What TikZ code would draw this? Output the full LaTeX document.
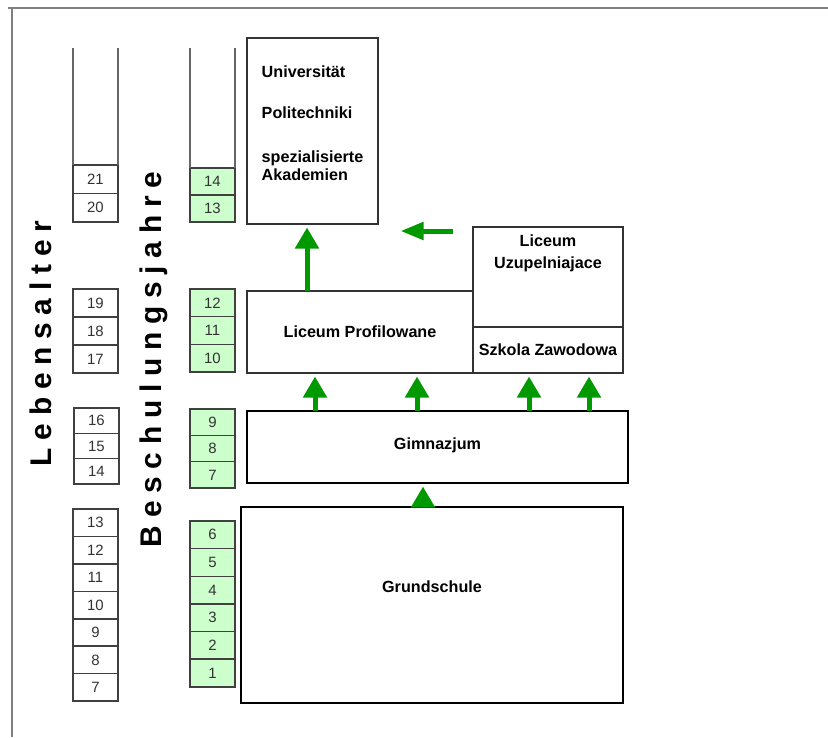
\documentclass[tikz,border=0pt]{standalone}
\usepackage{fontspec}
\setmainfont{Liberation Sans}
\newfontfamily\spacedfont[LetterSpace=26]{Liberation Sans}
\usetikzlibrary{arrows.meta,
                positioning
            }

\definecolor{lightgreen}{HTML}{CCFFCC}
\definecolor{arrowgreen}{HTML}{009900}
\definecolor{framegray}{HTML}{7F7F7F}

\begin{document}
\begin{tikzpicture}[
        agebox/.style={draw=black!75, line width=0.9pt, minimum width=0.9cm, inner sep=0pt, outer sep=0pt,
                       text=black!80, font=\fontsize{8.5}{10}\selectfont},
        yearbox/.style={agebox, fill=lightgreen},
        boxtext/.style={inner sep=0pt, outer sep=0pt, font=\fontsize{9.2}{10.5}\selectfont\bfseries},
        schoolbox/.style={boxtext, draw=black!80, line width=1pt},
        mainbox/.style={schoolbox, draw=black, line width=1.6pt},
        rail/.style={draw=black!60, line width=0.8pt},
        sidelabel/.style={rotate=90, inner sep=0pt, font=\spacedfont\fontsize{17}{20}\selectfont\bfseries},
        uparrow/.style={draw=arrowgreen, line width=0.1cm, -{Triangle[width=0.46cm, length=0.42cm]}, shorten >=2pt}
    ]
                \useasboundingbox (0,0) rectangle (16.56,-14.74);

                % Frame
                \draw[framegray, line width=1.7pt] (0.16,-0.16) -- (16.56,-0.16);
                \draw[framegray, line width=1.7pt] (0.24,-0.16) -- (0.24,-14.74);

                % Lebensalter
                \node (a21) [agebox, minimum height=0.57cm, anchor=north west] at (1.46,-3.30) {21};
                \node (a20) [agebox, minimum height=0.57cm, below=0pt of a21] {20};
                \draw[rail] (a21.north west) -- +(0,2.34);
                \draw[rail] (a21.north east) -- +(0,2.34);

                \node (a19) [agebox, minimum height=0.56cm, anchor=north west] at (1.46,-5.78) {19};
                \node (a18) [agebox, minimum height=0.56cm, below=0pt of a19] {18};
                \node (a17) [agebox, minimum height=0.56cm, below=0pt of a18] {17};

                \node (a16) [agebox, minimum height=0.507cm, anchor=north west] at (1.48,-8.16) {16};
                \node (a15) [agebox, minimum height=0.507cm, below=0pt of a16] {15};
                \node (a14) [agebox, minimum height=0.507cm, below=0pt of a15] {14};

                \node (a13) [agebox, minimum height=0.549cm, anchor=north west] at (1.46,-10.18) {13};
                \node (a12) [agebox, minimum height=0.549cm, below=0pt of a13] {12};
                \node (a11) [agebox, minimum height=0.549cm, below=0pt of a12] {11};
                \node (a10) [agebox, minimum height=0.549cm, below=0pt of a11] {10};
                \node (a9) [agebox, minimum height=0.549cm, below=0pt of a10] {9};
                \node (a8) [agebox, minimum height=0.549cm, below=0pt of a9] {8};
                \node (a7) [agebox, minimum height=0.549cm, below=0pt of a8] {7};

                % Beschulungsjahre
                \node (y14) [yearbox, minimum height=0.54cm, anchor=north west] at (3.80,-3.36) {14};
                \node (y13) [yearbox, minimum height=0.54cm, below=0pt of y14] {13};
                \draw[rail] (y14.north west) -- +(0,2.40);
                \draw[rail] (y14.north east) -- +(0,2.40);

                \node (y12) [yearbox, minimum height=0.553cm, anchor=north west] at (3.80,-5.78) {12};
                \node (y11) [yearbox, minimum height=0.553cm, below=0pt of y12] {11};
                \node (y10) [yearbox, minimum height=0.553cm, below=0pt of y11] {10};

                \node (y9) [yearbox, minimum height=0.527cm, anchor=north west] at (3.80,-8.18) {9};
                \node (y8) [yearbox, minimum height=0.527cm, below=0pt of y9] {8};
                \node (y7) [yearbox, minimum height=0.527cm, below=0pt of y8] {7};

                \node (y6) [yearbox, minimum height=0.553cm, anchor=north west] at (3.80,-10.42) {6};
                \node (y5) [yearbox, minimum height=0.553cm, below=0pt of y6] {5};
                \node (y4) [yearbox, minimum height=0.553cm, below=0pt of y5] {4};
                \node (y3) [yearbox, minimum height=0.553cm, below=0pt of y4] {3};
                \node (y2) [yearbox, minimum height=0.553cm, below=0pt of y3] {2};
                \node (y1) [yearbox, minimum height=0.553cm, below=0pt of y2] {1};

                % Side labels
                \node (lebensalter) [sidelabel] at (0.82,-6.87) {Lebensalter};
                \node (jahre) [sidelabel] at (3.08,-7.19) {Beschulungsjahre};

                % Schools
                \node (uni) [schoolbox, minimum width=2.62cm, minimum height=3.72cm, anchor=north west, align=left,
                    text depth=0.32cm]
                    at (4.94,-0.76) {Universität\\[12.8pt]Politechniki\\[14.5pt]spezialisierte\\Akademien};
                \node (lp) [schoolbox, minimum width=4.52cm, minimum height=1.64cm,
                    below=1.34cm of uni.south west, anchor=north west] {Liceum Profilowane};
                \node (sz) [schoolbox, minimum width=3.0cm, minimum height=0.92cm, anchor=south west]
                    at (lp.south east) {Szkola Zawodowa};
                \node (lu) [schoolbox, minimum width=3.0cm, minimum height=2.0cm, above=0pt of sz] {};
                \node (lutext) [boxtext, below=0.16cm of lu.north, align=center] {Liceum\\[2pt]Uzupelniajace};
                \node (gim) [mainbox, minimum width=7.62cm, minimum height=1.44cm, text depth=0.12cm,
                    below=0.76cm of lp.south west, anchor=north west] {Gimnazjum};
                \node (gs) [mainbox, minimum width=7.64cm, minimum height=3.92cm, text depth=0.74cm, anchor=north west]
                    at ([shift={(-0.12,-0.48)}]gim.south west) {Grundschule};

                % Arrows
                \draw[uparrow] ([xshift=1.2cm]lp.north west) -- ([xshift=1.2cm]lp.north west |- uni.south);
                \coordinate (lutail) at ([shift={(-0.4cm,-0.08cm)}]lu.north west);
                \coordinate (unitip) at ([xshift=0.38cm]uni.east |- lutail);
                \draw[uparrow, -{Triangle[width=0.34cm, length=0.46cm]}] (lutail) -- (unitip);
                \draw[uparrow] ([xshift=1.36cm]gim.north west) -- ([xshift=1.36cm]gim.north west |- lp.south);
                \draw[uparrow] ([xshift=3.40cm]gim.north west) -- ([xshift=3.40cm]gim.north west |- lp.south);
                \draw[uparrow] ([xshift=5.64cm]gim.north west) -- ([xshift=5.64cm]gim.north west |- sz.south);
                \draw[uparrow] ([xshift=6.84cm]gim.north west) -- ([xshift=6.84cm]gim.north west |- sz.south);
                \draw[uparrow] ([xshift=3.64cm]gs.north west) -- ([xshift=3.64cm]gs.north west |- gim.south);
            \end{tikzpicture}
\end{document}
